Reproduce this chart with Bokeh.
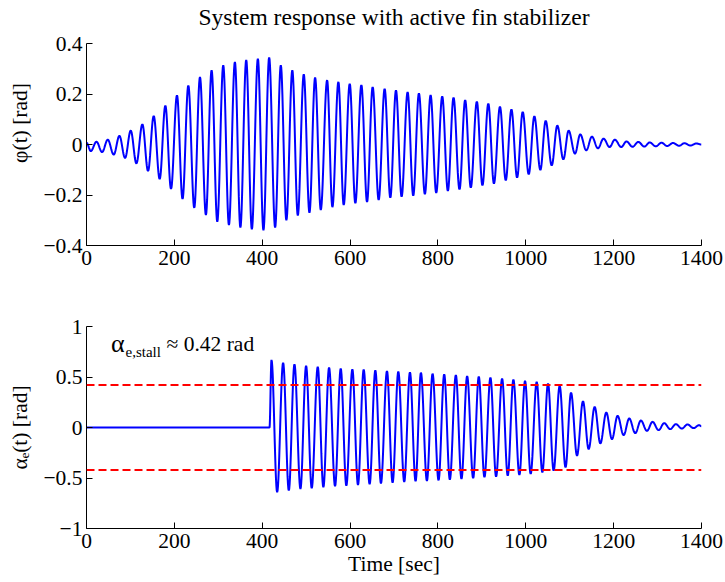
import numpy as np
from bokeh.plotting import figure
from bokeh.layouts import column
from bokeh.models import Label, FixedTicker, Span
from bokeh.embed import file_html
from bokeh.resources import INLINE

# ---- data (extrema of each half cycle) ----
phi_t = [0, 9.8, 22.7, 35.5, 48.4, 62.0, 74.9, 87.8, 100.7, 113.6, 127.2, 140.1, 153.0, 166.6,
         179.5, 192.4, 206.0, 218.6, 231.8, 245.3, 258.3, 271.8, 284.8, 297.7, 311.3, 324.2,
         337.8, 350.3, 363.6, 376.4, 390.1, 402.8, 415.8, 429.4, 442.3, 455.0, 468.5, 481.0,
         494.6, 507.5, 520.4, 533.3, 547.7, 559.8, 573.4, 585.5, 599.2, 612.0, 625.7, 638.6,
         651.4, 665.1, 678.7, 691.6, 704.5, 717.3, 731.0, 743.8, 756.7, 770.3, 783.3, 796.1,
         809.8, 822.6, 835.5, 849.1, 862.0, 874.8, 888.6, 901.3, 914.7, 927.5, 941.2, 954.4,
         967.3, 980.2, 993.0, 1006.7, 1019.5, 1033.2, 1045.3, 1059.0, 1071.8, 1085.5, 1097.5,
         1112.0, 1124.0, 1137.7, 1150.5, 1164.2, 1177.0, 1190.8, 1202.7, 1217.3, 1229.2,
         1243.0, 1256.0, 1270.0, 1282.0, 1296.0, 1309.0, 1322.0, 1335.0, 1349.0, 1361.0,
         1375.0, 1388.0, 1400.0]
phi_v = [0.007, -0.026, 0.011, -0.030, 0.019, -0.040, 0.034, -0.053, 0.055, -0.075, 0.080, -0.105,
         0.113, -0.137, 0.154, -0.176, 0.195, -0.216, 0.234, -0.251, 0.267, -0.279, 0.294, -0.306,
         0.314, -0.319, 0.327, -0.329, 0.335, -0.336, 0.340, -0.340, 0.345, -0.329, 0.314, -0.300,
         0.294, -0.281, 0.278, -0.270, 0.265, -0.259, 0.255, -0.248, 0.248, -0.240, 0.241, -0.233,
         0.236, -0.228, 0.228, -0.220, 0.221, -0.211, 0.215, -0.207, 0.208, -0.203, 0.203, -0.197,
         0.196, -0.192, 0.191, -0.184, 0.186, -0.178, 0.176, -0.171, 0.170, -0.162, 0.162, -0.155,
         0.150, -0.142, 0.139, -0.131, 0.129, -0.118, 0.112, -0.101, 0.094, -0.083, 0.075, -0.059,
         0.055, -0.036, 0.040, -0.023, 0.031, -0.015, 0.023, -0.010, 0.019, -0.010, 0.012,
         -0.009, 0.010, -0.008, 0.008, -0.007, 0.007, -0.006, 0.006, -0.005, 0.005, -0.004,
         0.004, 0.0]

alpha_t = [0, 416.6, 421.1, 434.0, 447.6, 460.5, 473.4, 487.0, 499.9, 512.7, 526.4, 539.2, 552.2,
           565.8, 578.7, 591.5, 605.2, 618.0, 631.0, 644.5, 657.5, 670.3, 684.0, 696.8, 709.8,
           723.3, 736.3, 749.1, 761.3, 774.9, 787.8, 801.4, 814.3, 827.1, 840.8, 853.6, 866.5,
           880.2, 893.0, 905.9, 919.5, 932.4, 946.1, 958.9, 971.8, 985.4, 998.3, 1011.1, 1024.8,
           1037.7, 1050.6, 1063.4, 1077.1, 1090.5, 1103.0, 1116.6, 1130.2, 1143.1, 1156.8,
           1169.7, 1183.3, 1196.2, 1209.0, 1222.7, 1235.5, 1249.2, 1262.0, 1275.8, 1288.6,
           1302.3, 1315.1, 1328.8, 1341.6, 1355.3, 1368.1, 1381.8, 1394.6, 1400.0]
alpha_v = [0.0, 0.0, 0.668, -0.641, 0.642, -0.625, 0.626, -0.608, 0.612, -0.602, 0.602, -0.592,
           0.593, -0.582, 0.583, -0.576, 0.576, -0.569, 0.573, -0.562, 0.566, -0.553, 0.560,
           -0.546, 0.553, -0.539, 0.547, -0.533, 0.543, -0.529, 0.533, -0.523, 0.527, -0.516,
           0.520, -0.510, 0.510, -0.503, 0.504, -0.493, 0.494, -0.487, 0.484, -0.477, 0.474,
           -0.470, 0.461, -0.460, 0.451, -0.444, 0.435, -0.427, 0.412, -0.395, 0.345, -0.279,
           0.260, -0.214, 0.204, -0.158, 0.148, -0.115, 0.115, -0.075, 0.089, -0.056, 0.069,
           -0.033, 0.056, -0.026, 0.043, -0.016, 0.033, -0.010, 0.030, -0.006, 0.023, 0.012]

stall = 0.42
x_ticks = [0, 200, 400, 600, 800, 1000, 1200, 1400]
phi_ticks = [-0.4, -0.2, 0, 0.2, 0.4]
phi_tick_labels = ["\u22120.4", "\u22120.2", "0", "0.2", "0.4"]
alpha_ticks = [-1, -0.5, 0, 0.5, 1]
alpha_tick_labels = ["\u22121", "\u22120.5", "0", "0.5", "1"]

FONT = "'Liberation Serif', 'Times New Roman', serif"
FS = "21.5px"


def smooth(ts, vs, n=14):
    """Join successive extrema with half-cosine arcs."""
    xs, ys = [ts[0]], [vs[0]]
    s = np.linspace(0, 1, n + 1)[1:]
    w = (1 - np.cos(np.pi * s)) / 2
    for i in range(len(ts) - 1):
        xs.extend(ts[i] + (ts[i + 1] - ts[i]) * s)
        ys.extend(vs[i] + (vs[i + 1] - vs[i]) * w)
    return xs, ys


def make_fig(h, top, bottom, yr, yticks, ylabels, ylabel):
    p = figure(width=725, height=h, x_range=(0, 1400), y_range=yr,
               output_backend="svg", toolbar_location=None,
               min_border_left=86, min_border_right=24,
               min_border_top=top, min_border_bottom=bottom)
    p.outline_line_color = None
    p.grid.visible = False
    p.background_fill_color = "white"
    p.border_fill_color = "white"
    for ax in (p.xaxis[0], p.yaxis[0]):
        ax.major_tick_in = 6
        ax.major_tick_out = 0
        ax.minor_tick_line_color = None
        ax.axis_line_color = "black"
        ax.major_tick_line_color = "black"
        ax.major_label_text_font = FONT
        ax.major_label_text_font_size = FS
        ax.major_label_text_color = "black"
        ax.axis_label_text_font = FONT
        ax.axis_label_text_font_size = FS
        ax.axis_label_text_font_style = "normal"
        ax.axis_label_text_color = "black"
    p.xaxis.ticker = FixedTicker(ticks=x_ticks)
    p.xaxis.major_label_standoff = 5
    p.yaxis.ticker = FixedTicker(ticks=yticks)
    p.yaxis.major_label_overrides = {t: l for t, l in zip(yticks, ylabels)}
    p.yaxis.major_label_standoff = 4
    p.yaxis.axis_label = ylabel
    p.yaxis.axis_label_standoff = 8
    return p


# ---- top: roll angle (frame reaches the top edge so the title can sit in it) ----
p1 = make_fig(285, 0, 40, (-0.4, 0.5703), phi_ticks, phi_tick_labels, "\u03c6(t) [rad]")
p1.yaxis.bounds = (-0.4, 0.4)
x1, y1 = smooth(phi_t, phi_v)
p1.line(x1, y1, line_color="#0000ff", line_width=2)
p1.add_layout(Label(x=307.5, y=229, x_units="screen", y_units="screen",
                    text="System response with active fin stabilizer",
                    text_font=FONT, text_font_size="23.5px", text_align="center",
                    text_baseline="alphabetic", text_color="black"))

# ---- bottom: effective angle of attack ----
p2 = make_fig(297, 41, 54, (-1, 1), alpha_ticks, alpha_tick_labels, "\u03b1\u2091(t) [rad]")
x2, y2 = smooth(alpha_t, alpha_v)
p2.line(x2, y2, line_color="#0000ff", line_width=2)
for lv in (stall, -stall):
    p2.add_layout(Span(location=lv, dimension="width", line_color="#ff0000",
                       line_width=2, line_dash="8 4"))

# annotation inside the axes
p2.add_layout(Label(x=38, y=185, x_units="screen", y_units="screen", text="\u03b1",
                    text_font=FONT, text_font_size="26px", text_align="right",
                    text_baseline="alphabetic", text_color="black"))
p2.add_layout(Label(x=39, y=177, x_units="screen", y_units="screen", text="e,stall",
                    text_font=FONT, text_font_size="15px", text_align="left",
                    text_baseline="alphabetic", text_color="black"))
p2.add_layout(Label(x=80, y=185, x_units="screen", y_units="screen", text="\u2248 0.42 rad",
                    text_font=FONT, text_font_size=FS, text_align="left",
                    text_baseline="alphabetic", text_color="black"))

p2.xaxis.axis_label = "Time [sec]"
p2.xaxis.axis_label_standoff = 1

layout = column(p1, p2, spacing=0)
open("out.html", "w").write(file_html(layout, INLINE))
